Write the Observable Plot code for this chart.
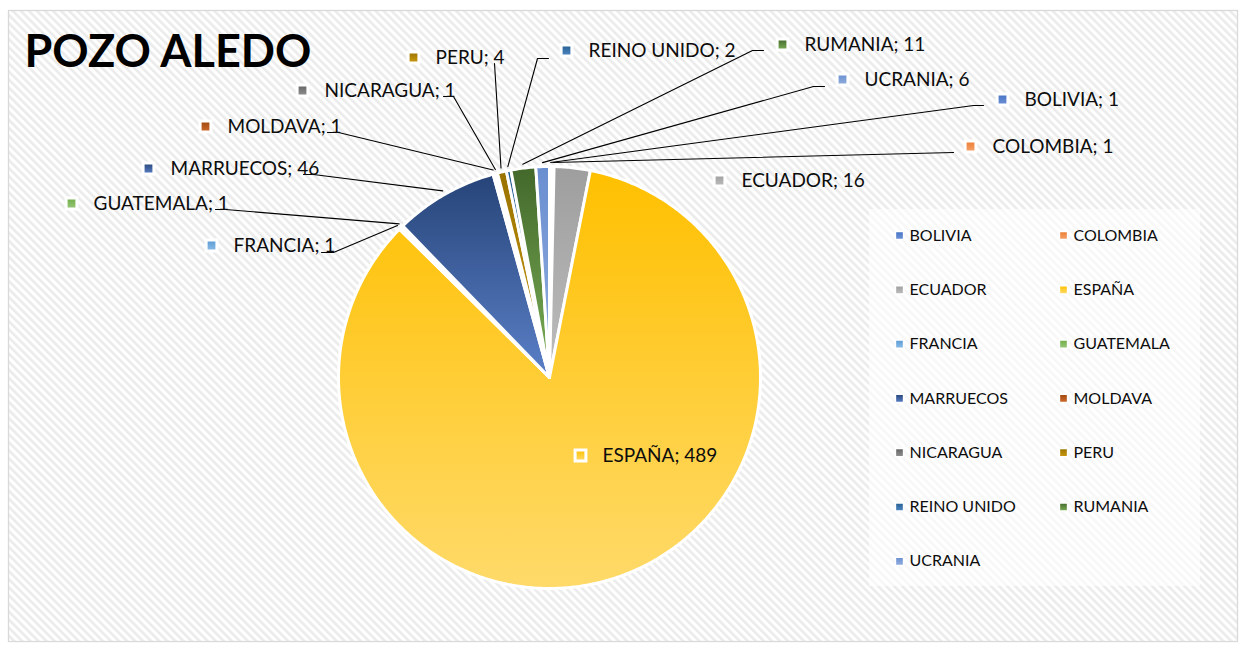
<!DOCTYPE html>
<html><head><meta charset="utf-8">
<script src="https://cdn.jsdelivr.net/npm/d3@7"></script>
<script src="https://cdn.jsdelivr.net/npm/@observablehq/plot@0.6"></script>
<style>html,body{margin:0;padding:0;background:#fff;} svg{display:block}</style>
</head><body><div id="chart"></div>
<script>
// ---------- data ----------
const title = "POZO ALEDO";
const categories = ["BOLIVIA","COLOMBIA","ECUADOR","ESPAÑA","FRANCIA","GUATEMALA","MARRUECOS","MOLDAVA","NICARAGUA","PERU","REINO UNIDO","RUMANIA","UCRANIA"];
const values = [1, 1, 16, 489, 1, 1, 46, 1, 1, 4, 2, 11, 6];

// ---------- styles ----------
const colorTop    = ["#4472C4","#ED7D31","#9E9E9E","#FFC000","#5B9BD5","#70AD47","#264478","#9E480E","#636363","#997300","#255E91","#43682B","#698ED0"];
const colorBottom = ["#7093D6","#F5A26C","#BDBDBD","#FFDA6A","#8CBCE6","#98C87B","#5B80C8","#D06A2C","#919191","#CC9A12","#4F87C3","#7BAF57","#93AEDF"];

// ---------- layout ----------
const W = 1245, H = 645;
const frameBox = {left: 8, top: 10, right: 1237, bottom: 641};
const pieCenter = [549, 377];
const pieRadius = 211;
const labelMarker = [[1002,99],[970,146],[719,180],[580,455],[211,245],[71,203],[148,168],[205,126],[302,90],[413,57],[566,50],[782,44],[842,79]];
const labelLeader = [
  [[983,105],[973,105]], [[953,152]], [], [],
  [[321,252],[333,252]], [[215,209],[225,209]], [[303,174],[313,174]],
  [[327,132],[338,132]], [[443,96],[453,96]], [[494,63]],
  [[548,58],[537,58]], [[763,50],[752,50]], [[824,86],[813,86]]
];
const labelTextGap = 22;
const legendOrigin = [899, 235], legendColStep = 164, legendRowStep = 54.3, legendTextGap = 10;
const legendBox = [869, 209, 1200, 586];
const titlePos = [24, 52];

// ---------- derived geometry ----------
const total = d3.sum(values);
const cum = Array.from(d3.cumsum(values));
const slices = categories.map((c, i) => ({
  cat: c,
  a0: (cum[i] - values[i]) / total * 2 * Math.PI,
  a1: cum[i] / total * 2 * Math.PI
}));
const polar = (a, r) => [pieCenter[0] + r * Math.sin(a), pieCenter[1] - r * Math.cos(a)];

const slicePts = slices.flatMap(s => {
  const n = Math.max(2, Math.ceil((s.a1 - s.a0) / (Math.PI / 360)));
  const pts = [{cat: s.cat, x: pieCenter[0], y: pieCenter[1]}];
  for (let k = 0; k <= n; k++) {
    const [x, y] = polar(s.a0 + (s.a1 - s.a0) * k / n, pieRadius);
    pts.push({cat: s.cat, x, y});
  }
  pts.push({cat: s.cat, x: pieCenter[0], y: pieCenter[1]});
  return pts;
});

const leaderPts = slices.flatMap((s, i) => {
  if (!labelLeader[i].length) return [];
  const [ex, ey] = polar((s.a0 + s.a1) / 2, pieRadius + 4);
  return [...labelLeader[i].map(([x, y]) => ({cat: s.cat, x, y})), {cat: s.cat, x: ex, y: ey}];
});

const labels = categories.map((c, i) => ({cat: c, x: labelMarker[i][0], y: labelMarker[i][1], text: `${c}; ${values[i]}`}));
const legendRows = categories.map((c, i) => ({
  cat: c,
  x: legendOrigin[0] + (i % 2) * legendColStep,
  y: legendOrigin[1] + Math.floor(i / 2) * legendRowStep
}));

const font = "Lato, 'Open Sans', sans-serif";

const svg = Plot.plot({
  width: W, height: H,
  marginLeft: frameBox.left, marginTop: frameBox.top,
  marginRight: W - frameBox.right, marginBottom: H - frameBox.bottom,
  x: {domain: [frameBox.left, frameBox.right], axis: null},
  y: {domain: [frameBox.top, frameBox.bottom], range: [frameBox.top, frameBox.bottom], axis: null},
  color: {type: "ordinal", domain: categories, range: categories.map((c, i) => `url(#sliceGrad${i})`)},
  style: {background: "white", fontFamily: font},
  marks: [
    Plot.frame({fill: "url(#bgStripes)", stroke: "#D9D9D9", strokeWidth: 1.3}),
    Plot.rect([legendBox], {x1: d => d[0], y1: d => d[1], x2: d => d[2], y2: d => d[3], fill: "white", fillOpacity: 0.6}),
    Plot.line(slicePts, {x: "x", y: "y", z: "cat", fill: "cat", stroke: "white", strokeWidth: 3, strokeLinejoin: "round"}),
    Plot.line(leaderPts, {x: "x", y: "y", z: "cat", stroke: "black", strokeWidth: 1.1}),
    Plot.dot(labels, {x: "x", y: "y", symbol: "square", r: 6.1, fill: "cat", stroke: "white", strokeWidth: 3}),
    Plot.text(labels, {x: d => d.x + labelTextGap, y: "y", text: "text", textAnchor: "start", lineAnchor: "middle", fontSize: 19, fontFamily: font, fill: "#0d0d0d"}),
    Plot.dot(legendRows, {x: "x", y: "y", symbol: "square", r: 4.6, fill: "cat", stroke: "white", strokeWidth: 1.5}),
    Plot.text(legendRows, {x: d => d.x + legendTextGap, y: "y", text: "cat", textAnchor: "start", lineAnchor: "middle", fontSize: 16, fontFamily: font, fill: "#0d0d0d"}),
    Plot.text([title], {x: () => titlePos[0], y: () => titlePos[1], text: d => d, textAnchor: "start", lineAnchor: "middle", fontSize: 45, fontWeight: "bold", fontFamily: font, fill: "#000"})
  ]
});

// gradient and pattern definitions
const defs = d3.select(svg).insert("defs", ":first-child");
const pat = defs.append("pattern").attr("id", "bgStripes").attr("patternUnits", "userSpaceOnUse")
  .attr("width", 5.7).attr("height", 5.7).attr("patternTransform", "rotate(-45)");
pat.append("rect").attr("width", 5.7).attr("height", 5.7).attr("fill", "#ffffff");
pat.append("rect").attr("width", 2.6).attr("height", 5.7).attr("fill", "#ebebeb");
categories.forEach((c, i) => {
  const g = defs.append("linearGradient").attr("id", `sliceGrad${i}`).attr("x1", 0).attr("y1", 0).attr("x2", 0).attr("y2", 1);
  g.append("stop").attr("offset", "0%").attr("stop-color", colorTop[i]);
  g.append("stop").attr("offset", "100%").attr("stop-color", colorBottom[i]);
});

document.getElementById("chart").appendChild(svg);
</script>
</body></html>
